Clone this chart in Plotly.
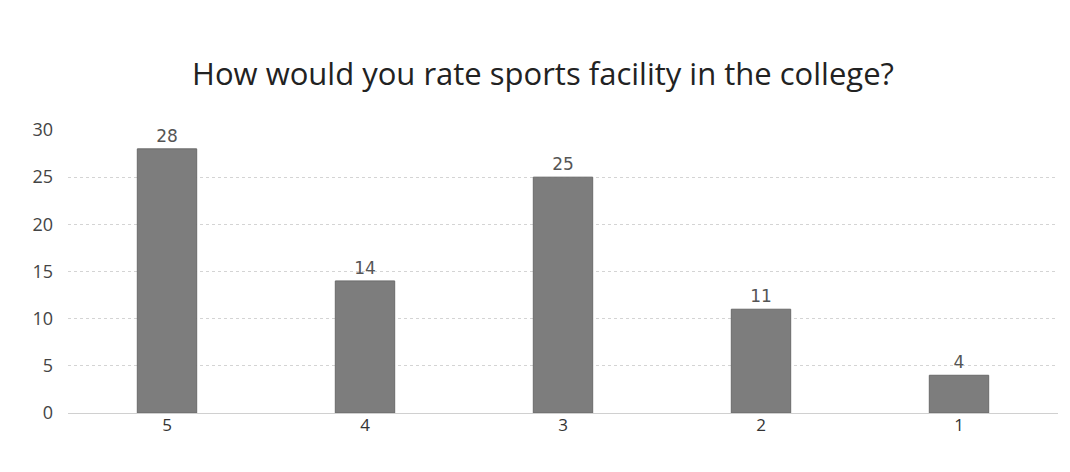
import plotly.graph_objects as go

categories = ["5", "4", "3", "2", "1"]
values = [28, 14, 25, 11, 4]
value_labels = ["28", "14", "25", "11", "4"]
y_ticks = [0, 5, 10, 15, 20, 25, 30]

fig = go.Figure(
    go.Bar(
        x=categories,
        y=values,
        marker=dict(color="#7d7d7d", line=dict(color="#6a6a6a", width=1)),
        text=value_labels,
        textposition="outside",
        textfont=dict(family="DejaVu Sans", size=17, color="#555555"),
        cliponaxis=False,
    )
)

fig.update_layout(
    width=1070,
    height=472,
    paper_bgcolor="#ffffff",
    plot_bgcolor="#ffffff",
    margin=dict(l=60, r=20, t=122, b=67),
    bargap=0.7,
    showlegend=False,
    title=dict(
        text="How would you rate sports facility in the college?",
        x=0.5,
        xanchor="center",
        y=0.86,
        yanchor="middle",
        font=dict(family="Open Sans", size=31, color="#222222"),
    ),
    xaxis=dict(
        type="category",
        showgrid=False,
        showline=False,
        ticks="",
        tickfont=dict(family="Open Sans", size=17, color="#333333"),
    ),
    yaxis=dict(
        range=[0, 30],
        tickvals=y_ticks,
        showgrid=True,
        gridcolor="#d4d4d4",
        griddash="dot",
        gridwidth=1,
        zeroline=True,
        zerolinecolor="#d0d0d0",
        zerolinewidth=1,
        showline=False,
        ticks="",
        ticklabelstandoff=14,
        tickfont=dict(family="Open Sans", size=18, color="#444444"),
    ),
)

fig.write_html("out.html")
